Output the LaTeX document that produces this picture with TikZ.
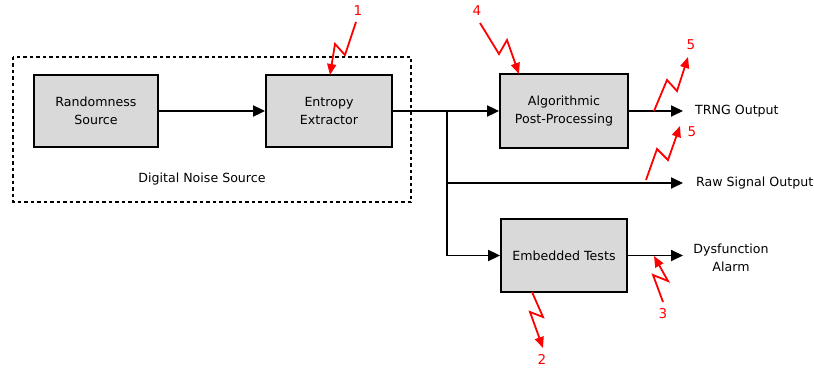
\documentclass[tikz,border=0pt]{standalone}
\usepackage{fontspec}
\setmainfont{DejaVu Sans}
\usetikzlibrary{arrows.meta}
\definecolor{boxgray}{HTML}{D9D9D9}
\tikzset{
  blk/.style={draw=black, line width=1.8pt, fill=boxgray, align=center, inner sep=0pt, font=\fontsize{12.6}{18}\selectfont},
  lbl/.style={align=center, inner sep=0pt, font=\fontsize{12.6}{18}\selectfont},
  num/.style={text=red, inner sep=0pt, font=\fontsize{13.5}{15}\selectfont},
  conn/.style={draw=black, line width=1.8pt, -{Triangle[length=12pt,width=11pt]}},
  plain/.style={draw=black, line width=1.8pt},
  bolt/.style={draw=red, line width=1.8pt, line join=miter, -{Triangle[length=11pt,width=9pt]}},
}
\begin{document}
\begin{tikzpicture}[x=1pt,y=-1pt]
\useasboundingbox (0,0) rectangle (814,369);
% dotted frame
\draw[line width=1.8pt, dash pattern=on 3.5pt off 3pt] (13,57) rectangle (411,202);
\node[lbl] (dns) at (202,179) {Digital Noise Source};
% blocks
\node[blk, minimum width=124pt, minimum height=72pt] (rs) at (96,111) {Randomness\\Source};
\node[blk, minimum width=126pt, minimum height=72pt] (ee) at (329,111) {Entropy\\Extractor};
\node[blk, minimum width=128pt, minimum height=74pt] (app) at (564,111) {Algorithmic\\Post-Processing};
\node[blk, minimum width=126pt, minimum height=73pt] (et) at (564,255.5) {Embedded Tests};
% coordinates
\coordinate (j1) at (447,111);
\coordinate (j2) at (447,183);
\coordinate (j3) at (447,255.5);
\coordinate (trngEnd) at (683,111);
\coordinate (rawEnd) at (683,183);
\coordinate (alarmEnd) at (683,255.5);
% labels
\node[lbl, anchor=west] (trng) at (695,111) {TRNG Output};
\node[lbl, anchor=west] (raw) at (696,183) {Raw Signal Output};
\node[lbl] (alarm) at (731,258) {Dysfunction\\Alarm};
% connectors
\draw[conn] (rs.east) -- (ee.west);
\draw[conn] (ee.east) -- (app.west);
\draw[plain] (j1) -- (j3);
\draw[conn] (j3) -- (et.west);
\draw[conn] (j2) -- (rawEnd);
\draw[conn] (app.east) -- (trngEnd);
\draw[conn] (et.east) -- (alarmEnd);
% red numbers
\node[num] (n1) at (358,11) {1};
\node[num] (n4) at (477,11) {4};
\node[num] (n5a) at (691,45) {5};
\node[num] (n5b) at (692,132) {5};
\node[num] (n2) at (542,359) {2};
\node[num] (n3) at (663,314) {3};
% lightning bolts
\draw[bolt] (356,22) -- (345,55) -- (335,44) -- (330,75);
\draw[bolt] (480,23) -- (499,54) -- (507,40) -- (519,74);
\draw[bolt] (654,111) -- (667,80) -- (677,91) -- (688,57);
\draw[bolt] (646,180) -- (657,149) -- (668,160) -- (680,126);
\draw[bolt] (532,292) -- (543,317) -- (530,312) -- (543,348);
\draw[bolt] (663,302) -- (653,275) -- (668,281) -- (654,256);
\end{tikzpicture}
\end{document}
